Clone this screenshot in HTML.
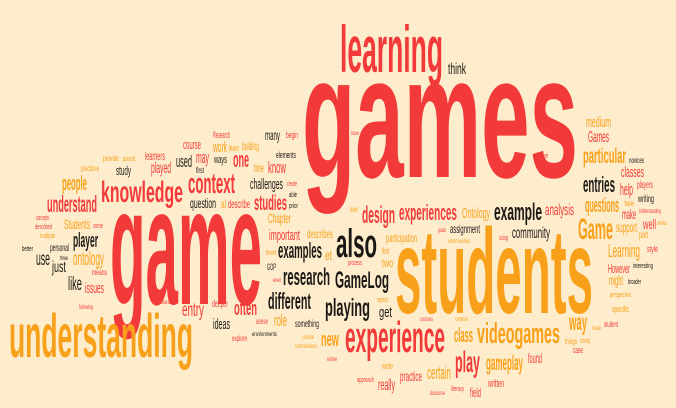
<!DOCTYPE html>
<html><head><meta charset="utf-8"><style>
html,body{margin:0;padding:0;background:#fdedcc;}
svg{display:block}
text{font-family:"Liberation Sans Narrow","Liberation Sans",sans-serif;}
</style></head><body>
<svg id="cloud" width="676" height="408" viewBox="0 0 676 408" xmlns="http://www.w3.org/2000/svg">
<rect width="676" height="408" fill="#fdedcc"/>
</svg>
<script>
const R="#f23a3a",O="#f8a01a",K="#1c1816";
// [word, x, baseline, fontSize, width, color]
const words=[
["games",302,177,174,276,R],["game",110,304,167,152,R],["students",395,313,121,198,O],
["learning",340,72,66,103,R],["think",448,74,16,18,K],
["understanding",9,357,61,184,O],["experience",345,352,44,100,R],
["knowledge",101,202,30,82,R],["context",188,193,29,47,R],["also",336,257,40,41,K],
["videogames",477,343,29,83,O],["GameLog",335,288,24,54,K],["playing",325,316,25,45,K],
["research",283,285,24,47,K],["different",268,309,23,43,K],["examples",278,258,22,44,K],
["Research",213,138,9,17,R],["begin",286,138,9,12,R],["many",265,140,14,15,K],
["course",183,149,13,18,R],["work",213,152,15,14,O],["learn",229,151,9,10,O],
["building",242,150,12,17,O],["provide",103,161,8,16,O],["poised",123,161,7,12,O],
["learners",145,160,12,20,R],["used",176,167,17,16,K],["may",196,163,17,13,R],
["ways",214,163,11,13,K],["one",233,167,22,16,R],["elements",276,158,9,20,K],
["practices",81,171,8,18,O],["played",151,173,16,20,R],["study",116,175,13,15,K],
["first",196,173,8,8,K],["time",254,172,12,10,O],["know",268,173,17,18,R],
["people",62,190,20,25,O],["challenges",250,189,15,33,K],["create",287,186,7,10,R],
["able",289,197,7,8,K],["prior",289,208,7,9,K],["understand",47,212,23,50,R],
["question",190,208,14,26,K],["al",221,208,12,5,O],["describe",228,208,12,22,R],
["studies",254,210,21,33,R],["concepts",36,220,7,13,R],["described",35,229,7,17,R],
["multiple",40,238,7,15,O],["Students",64,229,14,26,O],["come",93,228,7,10,R],
["Chapter",268,223,14,23,O],["important",269,240,15,31,R],["describes",307,238,12,26,O],
["better",22,251,7,11,K],["personal",50,251,10,19,K],["player",73,247,20,25,K],
["use",36,265,19,14,K],["three",60,260,6,8,K],["just",52,272,16,14,K],
["ontology",73,265,19,31,O],["level",266,255,7,10,O],["et",325,260,14,7,O],
["means",92,275,8,15,R],["GOP",267,270,9,9,K],["even",273,282,6,8,R],
["like",68,290,19,14,K],["issues",85,293,15,19,R],["get",379,317,15,13,K],
["experts",377,302,7,11,O],["find",382,254,9,7,O],["two",382,267,12,11,O],
["process",348,265,7,14,R],["see",350,212,8,8,O],["issue",351,135,6,8,R],
["design",362,223,24,33,R],["experiences",399,220,22,58,R],["Ontology",462,218,15,28,O],
["example",494,220,24,48,K],["analysis",545,215,16,29,R],["goals",438,232,6,8,R],
["assignment",450,233,12,30,K],["participation",386,242,12,31,O],["communities",448,243,6,22,O],
["community",512,238,16,38,K],["using",499,240,7,9,R],["culture",537,158,7,11,R],
["medium",586,127,15,25,O],["Games",588,142,16,21,R],["particular",583,163,21,43,O],
["novices",629,163,8,15,K],["classes",621,177,15,23,R],["entries",583,192,22,32,K],
["help",620,195,17,13,R],["players",637,188,10,16,R],["writing",638,202,10,16,K],
["Table",624,206,7,10,O],["questions",585,212,20,34,O],["Understanding",639,213,6,22,R],
["make",622,219,14,14,R],["similar",657,225,6,10,O],["well",643,229,14,13,R],
["support",616,232,14,21,O],["part",639,238,10,9,O],["Game",578,239,30,35,O],
["style",647,252,9,11,R],["Learning",608,257,18,32,O],["However",608,273,13,22,R],
["interesting",633,268,7,20,K],["might",609,285,14,14,O],["broader",628,284,7,13,K],
["perspective",610,297,7,21,O],["specific",612,312,9,17,O],["student",604,327,8,14,R],
["made",592,330,6,9,O],["way",569,330,23,18,O],["things",565,344,8,12,O],
["strong",580,343,7,10,O],["case",573,353,9,10,R],["courses",420,321,6,13,R],
["common",455,321,6,13,O],["class",454,342,20,19,O],["found",528,363,14,14,R],
["play",455,372,30,25,R],["gameplay",486,370,21,37,O],["certain",427,379,18,24,O],
["practice",400,381,14,22,R],["really",378,390,16,17,R],["write",382,369,9,11,O],
["approach",357,382,7,17,R],["discourse",430,395,6,15,R],["literacy",451,391,7,13,R],
["field",470,397,13,11,R],["written",488,387,11,16,R],["online",327,361,6,10,R],
["new",321,346,20,18,O],["cultural",302,339,6,12,O],["contributions",295,348,6,22,O],
["something",295,327,10,24,K],["role",274,326,17,13,O],["sense",256,324,8,12,R],
["environments",252,336,6,25,K],["explore",232,341,8,15,R],["ideas",213,329,15,17,K],
["often",234,315,20,23,R],["deeper",212,307,10,16,R],["entry",182,316,19,22,R],
["characters",160,304,6,18,R],["following",79,309,6,14,R]
];
const svg=document.getElementById('cloud');
for(const w of words){
  const t=document.createElementNS('http://www.w3.org/2000/svg','text');
  t.setAttribute('x',w[1]);t.setAttribute('y',w[2]);
  t.setAttribute('font-size',w[3]);
  t.setAttribute('textLength',w[4]);
  t.setAttribute('lengthAdjust','spacingAndGlyphs');
  t.setAttribute('fill',w[5]);
  if(w[3]>=20) t.setAttribute('font-weight','bold');
  
  
  t.textContent=w[0];
  svg.appendChild(t);
}
</script>
</body></html>
